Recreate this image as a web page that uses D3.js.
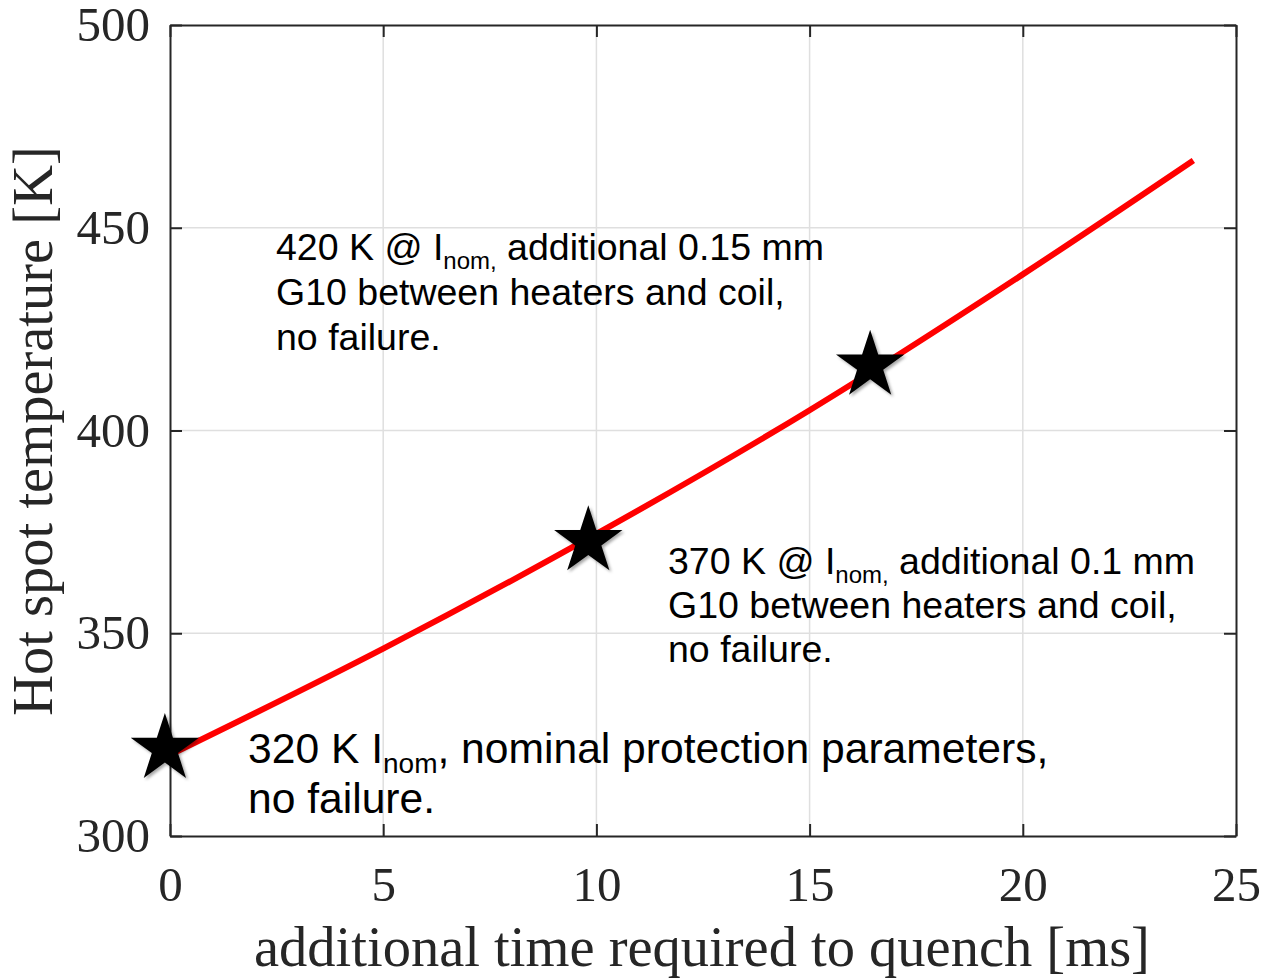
<!DOCTYPE html>
<html lang="en">
<head>
<meta charset="UTF-8" />
<title>Hot spot temperature vs additional quench time</title>
<script src="https://d3js.org/d3.v7.min.js"></script>
<style>
  body { margin: 0; background: #ffffff; }
  svg { display: block; }
  .tick text { font-family: "Liberation Serif", "Times New Roman", serif; font-size: 49px; fill: #262626; }
  .axis-label { font-family: "Liberation Serif", "Times New Roman", serif; font-size: 56.5px; fill: #262626; }
  .note { font-family: "Liberation Sans", Arial, sans-serif; fill: #000; }
  .grid line { stroke: #dfdfdf; stroke-width: 1.5; }
</style>
</head>
<body>
<svg id="chart" width="1262" height="978"></svg>
<script>
// curve
const timeMs = [0, 5, 10, 15, 20, 24];
const tempK  = [320, 346.2, 374.5, 405, 438.5, 466.6];

// star markers
const starTime = [-0.12, 9.81, 16.42];
const starTemp = [321.5, 372.7, 416];

const xTicks = [0, 5, 10, 15, 20, 25];
const yTicks = [300, 350, 400, 450, 500];

// annotation text: [string, isSubscript]
const notes = [
  { x: 276, y: 260, dy: 45, size: 37.5, sub: 24, shift: 9, lines: [
    [["420 K @ I", 0], ["nom,", 1], [" additional 0.15 mm", 0]],
    [["G10 between heaters and coil,", 0]],
    [["no failure.", 0]]
  ]},
  { x: 668, y: 574, dy: 44, size: 37.5, sub: 24, shift: 9, lines: [
    [["370 K @ I", 0], ["nom,", 1], [" additional 0.1 mm", 0]],
    [["G10 between heaters and coil,", 0]],
    [["no failure.", 0]]
  ]},
  { x: 248, y: 763, dy: 50, size: 42.6, sub: 28, shift: 10, lines: [
    [["320 K I", 0], ["nom", 1], [", nominal protection parameters,", 0]],
    [["no failure.", 0]]
  ]}
];

const margin = { left: 170, top: 25 };
const width = 1066, height = 811;

const svg = d3.select("#chart");
const defs = svg.append("defs");
defs.append("filter").attr("id", "shadow").attr("x", "-30%").attr("y", "-30%").attr("width", "160%").attr("height", "160%")
  .append("feDropShadow").attr("dx", 2).attr("dy", 2).attr("stdDeviation", 1.8)
  .attr("flood-color", "#000").attr("flood-opacity", 0.35);

const g = svg.append("g").attr("transform", `translate(${margin.left},${margin.top})`);

const x = d3.scaleLinear().domain([0, 25]).range([0, width]);
const y = d3.scaleLinear().domain([300, 500]).range([height, 0]);

// grid
g.append("g").attr("class", "grid")
  .selectAll("line").data(xTicks.slice(1, -1)).join("line")
  .attr("x1", d => x(d)).attr("x2", d => x(d)).attr("y1", 0).attr("y2", height);
g.append("g").attr("class", "grid")
  .selectAll("line").data(yTicks.slice(1, -1)).join("line")
  .attr("y1", d => y(d)).attr("y2", d => y(d)).attr("x1", 0).attr("x2", width);

// axes, ticks pointing inward on all four sides
function styleAxis(sel) {
  sel.select(".domain").attr("stroke", "#262626").attr("stroke-width", 2);
  sel.selectAll(".tick line").attr("stroke", "#262626").attr("stroke-width", 2);
}
g.append("g").attr("transform", `translate(0,${height})`)
  .call(d3.axisBottom(x).tickValues(xTicks).tickSizeInner(-12).tickSizeOuter(0).tickPadding(30))
  .call(styleAxis);
g.append("g")
  .call(d3.axisLeft(y).tickValues(yTicks).tickSizeInner(-12).tickSizeOuter(0).tickPadding(20))
  .call(styleAxis);
g.append("g")
  .call(d3.axisTop(x).tickValues(xTicks).tickSizeInner(-12).tickSizeOuter(0).tickFormat(""))
  .call(styleAxis);
g.append("g").attr("transform", `translate(${width},0)`)
  .call(d3.axisRight(y).tickValues(yTicks).tickSizeInner(-12).tickSizeOuter(0).tickFormat(""))
  .call(styleAxis);
g.selectAll(".tick text").attr("font-family", null).attr("font-size", null).attr("fill", "#262626");

// curve
const line = d3.line().x(d => x(d[0])).y(d => y(d[1])).curve(d3.curveMonotoneX);
g.append("path")
  .datum(timeMs.map((t, i) => [t, tempK[i]]))
  .attr("d", line)
  .attr("fill", "none")
  .attr("stroke", "#ff0000")
  .attr("stroke-width", 6);

// stars
g.append("g").selectAll("path")
  .data(starTime.map((t, i) => [t, starTemp[i]]))
  .join("path")
  .attr("d", d3.symbol(d3.symbolStar, 1450))
  .attr("transform", d => `translate(${x(d[0])},${y(d[1])})`)
  .attr("fill", "#000")
  .attr("filter", "url(#shadow)");

// annotations
notes.forEach(n => {
  n.lines.forEach((parts, i) => {
    const t = svg.append("text").attr("class", "note")
      .attr("font-size", n.size)
      .attr("x", n.x).attr("y", n.y + i * n.dy);
    let down = false;
    parts.forEach(([str, sub]) => {
      const s = t.append("tspan").text(str);
      if (sub) { s.attr("font-size", n.sub).attr("dy", n.shift); down = true; }
      else if (down) { s.attr("dy", -n.shift); down = false; }
    });
  });
});

// axis labels
svg.append("text").attr("class", "axis-label")
  .attr("x", 702).attr("y", 966)
  .attr("text-anchor", "middle")
  .text("additional time required to quench [ms]");
svg.append("text").attr("class", "axis-label")
  .attr("transform", "translate(52,431) rotate(-90)")
  .attr("text-anchor", "middle")
  .text("Hot spot temperature [K]");
</script>
</body>
</html>
